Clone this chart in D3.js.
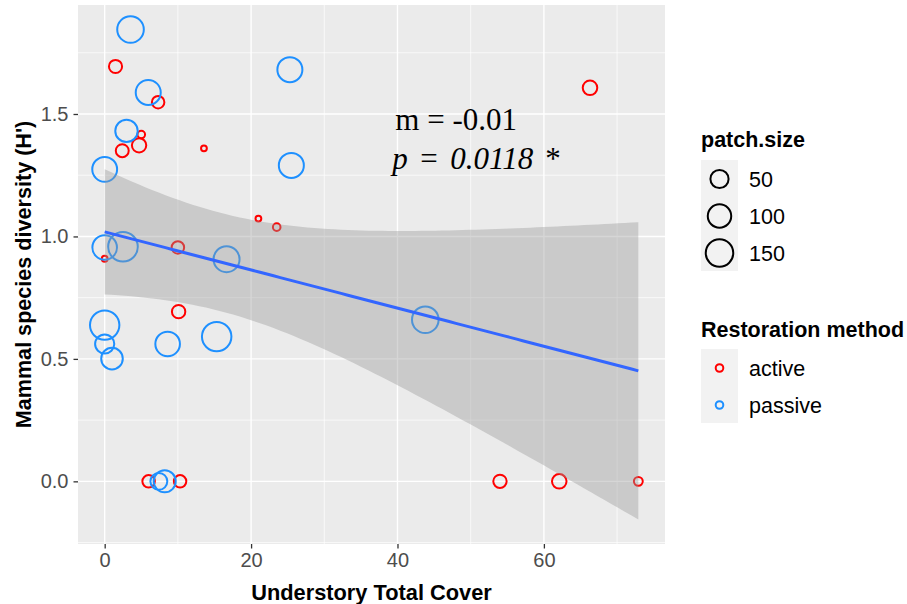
<!DOCTYPE html>
<html>
<head>
<meta charset="utf-8">
<script src="https://cdn.jsdelivr.net/npm/d3@7"></script>
<style>
body { margin: 0; background: #fff; }
svg text { font-family: "Liberation Sans", Arial, sans-serif; }
</style>
</head>
<body>
<div id="chart"></div>
<script>
// data
var cover = [1.48, 7.3, 5.0, 4.7, 2.4, 13.56, 21.0, 23.5, 0, 10.0, 10.1, 6.0, 10.3, 66.3, 54.0, 62.1, 72.9,
             3.53, 25.3, 5.95, 2.98, 25.5, 0, 0, 2.5, 16.65, 0, 0, 1.0, 8.6, 15.3, 7.4, 8.2, 43.8];
var diversity = [1.694, 1.548, 1.416, 1.372, 1.35, 1.36, 1.073, 1.038, 0.909, 0.955, 0.693, 0, 0, 1.607, 0, 0, 0,
                 1.845, 1.681, 1.588, 1.431, 1.29, 1.274, 0.955, 0.958, 0.907, 0.638, 0.561, 0.501, 0.561, 0.591, 0, 0, 0.66];
var patchSize = [19, 16, 3, 25, 18, 2, 2, 3, 2, 16, 20, 16, 16, 26, 20, 26, 5,
                 138, 118, 118, 89, 118, 116, 113, 180, 130, 177, 58, 80, 113, 178, 41, 85, 138];
var method = ["active","active","active","active","active","active","active","active","active","active","active","active","active","active","active","active","active",
              "passive","passive","passive","passive","passive","passive","passive","passive","passive","passive","passive","passive","passive","passive","passive","passive","passive"];
var methods = ["active", "passive"];
var sizeBreaks = [50, 100, 150];
var xTicks = [0, 20, 40, 60];
var yTicks = [0, 0.5, 1.0, 1.5];
var pText = "0.0118";
var labelAt = [39.7, 1.434, 1.275]; // annotate() position in data units

var width = 907, height = 604;
var panel = {left: 78, right: 665, top: 5, bottom: 544};

var points = cover.map(function(d, i) {
  return {x: d, y: diversity[i], size: patchSize[i], method: method[i]};
});

// lm fit + 95% CI
var n = points.length;
var mx = d3.mean(points, function(d) { return d.x; });
var my = d3.mean(points, function(d) { return d.y; });
var sxx = d3.sum(points, function(d) { return (d.x - mx) * (d.x - mx); });
var sxy = d3.sum(points, function(d) { return (d.x - mx) * (d.y - my); });
var slope = sxy / sxx;
var intercept = my - slope * mx;
var sse = d3.sum(points, function(d) { var r = d.y - intercept - slope * d.x; return r * r; });
var se = Math.sqrt(sse / (n - 2));
var tCrit = 2.0369; // qt(0.975, 32)

var xExt = d3.extent(points, function(d) { return d.x; });
var band = d3.range(80).map(function(i) {
  var x = xExt[0] + (xExt[1] - xExt[0]) * i / 79;
  var fit = intercept + slope * x;
  var hw = tCrit * se * Math.sqrt(1 / n + (x - mx) * (x - mx) / sxx);
  return {x: x, fit: fit, lo: fit - hw, hi: fit + hw};
});

var yLo = Math.min(d3.min(points, function(d) { return d.y; }), d3.min(band, function(d) { return d.lo; }));
var yHi = Math.max(d3.max(points, function(d) { return d.y; }), d3.max(band, function(d) { return d.hi; }));
var xPad = (xExt[1] - xExt[0]) * 0.05, yPad = (yHi - yLo) * 0.05;

var x = d3.scaleLinear().domain([xExt[0] - xPad, xExt[1] + xPad]).range([panel.left, panel.right]);
var y = d3.scaleLinear().domain([yLo - yPad, yHi + yPad]).range([panel.bottom, panel.top]);

var sizeExt = d3.extent(patchSize);
var rMin = 2.9, rMax = 14.8;
function radius(v) {
  var t = (v - sizeExt[0]) / (sizeExt[1] - sizeExt[0]);
  return rMin + (rMax - rMin) * Math.sqrt(Math.max(0, t));
}
var color = d3.scaleOrdinal().domain(methods).range(["#FF0000", "#1E90FF"]);

var svg = d3.select("#chart").append("svg")
    .attr("width", width)
    .attr("height", height);

svg.append("rect")
    .attr("x", panel.left).attr("y", panel.top)
    .attr("width", panel.right - panel.left)
    .attr("height", panel.bottom - panel.top)
    .attr("fill", "#EBEBEB");

// minor grid
var xMinor = d3.range(-10, 90, 10).filter(function(v) { return xTicks.indexOf(v) < 0 && v >= x.domain()[0] && v <= x.domain()[1]; });
var yMinor = d3.range(-0.25, 2, 0.5).filter(function(v) { return v >= y.domain()[0] && v <= y.domain()[1]; });

svg.selectAll(".xminor").data(xMinor).enter().append("line")
    .attr("x1", x).attr("x2", x)
    .attr("y1", panel.top).attr("y2", panel.bottom)
    .attr("stroke", "#fff").attr("stroke-width", 0.7);
svg.selectAll(".yminor").data(yMinor).enter().append("line")
    .attr("y1", y).attr("y2", y)
    .attr("x1", panel.left).attr("x2", panel.right)
    .attr("stroke", "#fff").attr("stroke-width", 0.7);
svg.selectAll(".xmajor").data(xTicks).enter().append("line")
    .attr("x1", x).attr("x2", x)
    .attr("y1", panel.top).attr("y2", panel.bottom)
    .attr("stroke", "#fff").attr("stroke-width", 1.4);
svg.selectAll(".ymajor").data(yTicks).enter().append("line")
    .attr("y1", y).attr("y2", y)
    .attr("x1", panel.left).attr("x2", panel.right)
    .attr("stroke", "#fff").attr("stroke-width", 1.4);

// points
svg.append("g").selectAll("circle")
    .data(points).enter().append("circle")
    .attr("cx", function(d) { return x(d.x); })
    .attr("cy", function(d) { return y(d.y); })
    .attr("r", function(d) { return radius(d.size); })
    .attr("fill", "none")
    .attr("stroke", function(d) { return color(d.method); })
    .attr("stroke-width", 2);

// smooth
var area = d3.area()
    .x(function(d) { return x(d.x); })
    .y0(function(d) { return y(d.lo); })
    .y1(function(d) { return y(d.hi); });
svg.append("path").datum(band)
    .attr("d", area)
    .attr("fill", "#999999")
    .attr("fill-opacity", 0.4);

var line = d3.line()
    .x(function(d) { return x(d.x); })
    .y(function(d) { return y(d.fit); });
svg.append("path").datum(band)
    .attr("d", line)
    .attr("fill", "none")
    .attr("stroke", "#3366FF")
    .attr("stroke-width", 3);

// axes
var xAxis = svg.append("g")
    .attr("transform", "translate(0," + panel.bottom + ")")
    .call(d3.axisBottom(x).tickValues(xTicks).tickSize(4.5).tickPadding(4).tickFormat(d3.format("d")));
var yAxis = svg.append("g")
    .attr("transform", "translate(" + panel.left + ",0)")
    .call(d3.axisLeft(y).tickValues(yTicks).tickSize(4.5).tickPadding(5).tickFormat(d3.format(".1f")));
[xAxis, yAxis].forEach(function(a) {
  a.select(".domain").remove();
  a.selectAll(".tick line").attr("stroke", "#333333").attr("stroke-width", 1.3);
  a.selectAll(".tick text").attr("fill", "#4D4D4D").style("font-size", "20px")
    .style("font-family", "'Liberation Sans', Arial, sans-serif");
});

svg.append("text")
    .attr("x", (panel.left + panel.right) / 2)
    .attr("y", 600)
    .attr("text-anchor", "middle")
    .style("font-size", "21.8px").style("font-weight", "bold")
    .text("Understory Total Cover");

svg.append("text")
    .attr("transform", "translate(31," + (panel.top + panel.bottom) / 2 + ") rotate(-90)")
    .attr("text-anchor", "middle")
    .style("font-size", "21.6px").style("font-weight", "bold")
    .text("Mammal species diversity (H')");

// annotation
var serif = "'Liberation Serif', 'Times New Roman', serif";
var ax = x(labelAt[0]);
svg.append("text")
    .attr("x", ax).attr("y", y(labelAt[1]))
    .style("font-family", serif).style("font-size", "31px")
    .text("m = " + slope.toFixed(2));
var pt = svg.append("text")
    .attr("y", y(labelAt[2]))
    .style("font-family", serif).style("font-size", "31px");
pt.append("tspan").attr("x", ax - 3).style("font-style", "italic").text("p");
pt.append("tspan").attr("x", ax + 25).text("=");
pt.append("tspan").attr("x", ax + 55).style("font-style", "italic").text(pText);
pt.append("tspan").attr("x", ax + 150).text("*");

// legend: patch.size
var fs = "21.5px";
var lg = svg.append("g").attr("transform", "translate(701,0)");
lg.append("text").attr("x", 0).attr("y", 147)
    .style("font-size", fs).style("font-weight", "bold").text("patch.size");
lg.append("rect").attr("x", 0).attr("y", 160).attr("width", 37).attr("height", 111).attr("fill", "#F2F2F2");
var sk = lg.selectAll(".sk").data(sizeBreaks).enter().append("g")
    .attr("transform", function(d, i) { return "translate(0," + (160 + 37 * i) + ")"; });
sk.append("circle").attr("cx", 18.5).attr("cy", 19).attr("r", radius)
    .attr("fill", "none").attr("stroke", "#000").attr("stroke-width", 2);
sk.append("text").attr("x", 48).attr("y", 19).attr("dy", "0.35em")
    .style("font-size", fs).text(function(d) { return d; });

// legend: Restoration method
lg.append("text").attr("x", 0).attr("y", 337)
    .style("font-size", fs).style("font-weight", "bold").text("Restoration method");
lg.append("rect").attr("x", 0).attr("y", 349).attr("width", 37).attr("height", 74).attr("fill", "#F2F2F2");
var ck = lg.selectAll(".ck").data(methods).enter().append("g")
    .attr("transform", function(d, i) { return "translate(0," + (349 + 37 * i) + ")"; });
ck.append("circle").attr("cx", 18.5).attr("cy", 19).attr("r", 3.8)
    .attr("fill", "none").attr("stroke", color).attr("stroke-width", 2);
ck.append("text").attr("x", 48).attr("y", 19).attr("dy", "0.35em")
    .style("font-size", fs).text(function(d) { return d; });
</script>
</body>
</html>
